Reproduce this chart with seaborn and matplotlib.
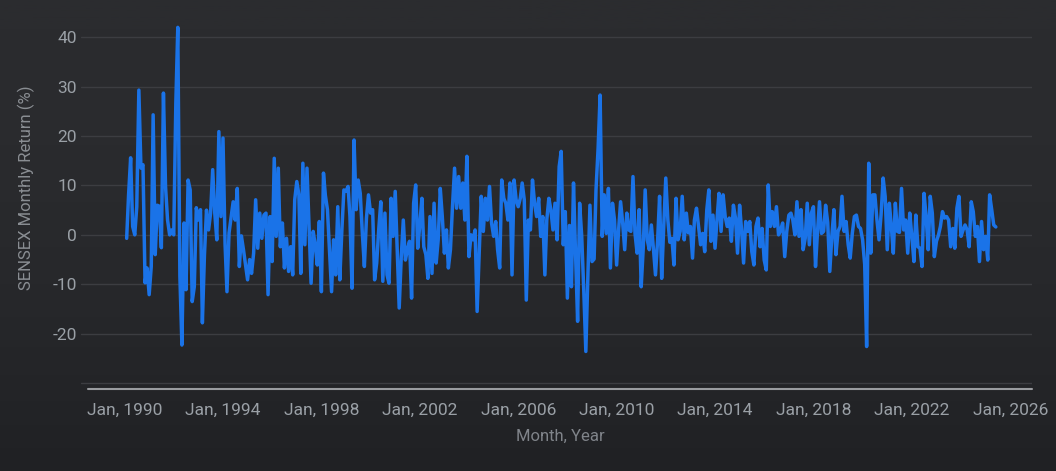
import numpy as np
import pandas as pd
import seaborn as sns
import matplotlib.pyplot as plt
from matplotlib.colors import LinearSegmentedColormap

# monthly SENSEX returns (%), Feb 1990 .. Jun 2025
first_month = '1990-02-01'
monthly_return = [
    -0.7, 8.0, 15.6, 1.7, 0.0, 5.7, 29.3, 13.5, 14.2, -9.7, -6.7,              # 1990
    -12.1, -6.4, 24.3, -4.0, 6.0, 5.8, -2.6, 28.7, 9.8, 3.0, 0.0, 1.0,         # 1991
    0.0, 26.7, 42.0, -8.4, -22.3, 2.4, -11.1, 11.1, 9.1, -13.5, -10.5, 5.5,    # 1992
    3.0, 5.1, -17.8, -4.0, 5.0, 1.0, 4.4, 13.2, 4.4, -1.0, 20.9, 3.7,          # 1993
    19.6, -2.0, -11.5, 0.4, 3.5, 6.7, 3.0, 9.4, -6.4, -0.2, -3.0, -6.0,        # 1994
    -9.1, -5.0, -7.8, -3.7, 7.1, -2.7, 4.4, -0.7, 4.0, 4.4, -12.1, 3.7,        # 1995
    -5.4, 15.5, -0.3, 13.5, -2.4, 2.4, -6.7, -0.7, -7.4, -2.4, -8.1, 7.1,      # 1996
    10.8, 8.1, -7.8, 14.5, -2.0, 13.5, 2.0, -9.8, 0.7, -2.0, -6.1, 2.7,        # 1997
    -11.5, 12.5, 8.0, 5.1, -3.0, -11.5, -1.0, -8.1, 5.7, -9.1, 1.0, 9.1,       # 1998
    8.8, 9.8, 3.7, -10.8, 19.2, 5.1, 11.1, 8.4, 0.3, -6.4, 3.4, 8.1,           # 1999
    4.4, 5.1, -9.1, -5.7, 1.0, 6.7, -9.4, 4.4, -8.1, -9.8, 7.4, -0.3,          # 2000
    8.8, -3.7, -14.8, -4.4, 3.0, -5.1, -3.0, -1.3, -12.8, 6.4, 10.1, -2.7,     # 2001
    2.0, 7.4, -2.4, -4.0, -8.8, 3.7, -7.8, 6.4, -5.7, -1.0, 9.4, 3.7,          # 2002
    -3.7, 1.0, -6.7, -3.0, 5.7, 13.5, 5.4, 11.8, 5.4, 10.5, 3.0, 15.9,         # 2003
    -4.4, 0.0, -1.0, 1.0, -15.5, -3.7, 7.8, 0.7, 7.4, 3.0, 9.8, 2.4,           # 2004
    -0.3, 2.7, -3.0, -6.7, 11.1, 7.4, 6.4, 3.0, 10.5, -8.1, 11.1, 7.1,         # 2005
    5.7, 7.4, 10.5, 7.1, -13.2, 3.0, 1.0, 11.1, 6.4, 3.7, 7.4, -0.3,           # 2006
    3.7, -8.1, 3.0, 7.4, 5.1, 1.0, 6.4, -1.0, 13.8, 16.9, -2.0, 4.7,           # 2007
    -12.8, 1.9, -10.5, 10.5, -3.7, -17.5, 6.4, -0.3, -11.5, -23.6, -8.0, 6.0,  # 2008
    -5.4, -4.9, 9.1, 17.5, 28.3, -0.3, 8.1, 0.3, 9.4, -6.7, 6.4, 3.0,          # 2009
    -6.1, 1.3, 6.7, 2.4, -3.0, 4.4, 1.0, 0.7, 11.8, 0.3, -3.7, 5.1,            # 2010
    -10.5, -2.5, 9.1, -1.0, -3.0, 2.0, -2.7, -8.1, -1.3, 7.8, -8.8, 1.5,       # 2011
    11.5, 3.0, -1.5, -0.7, -6.1, 7.4, -1.0, 0.7, 7.8, -1.0, 4.4, 0.4,          # 2012
    1.7, -4.7, 3.0, 5.4, 1.7, -2.0, 0.3, -3.4, 5.1, 9.1, -1.3, 4.0,            # 2013
    -2.7, 3.4, 8.4, 0.7, 8.1, 3.7, 1.7, 3.4, -1.3, 6.0, 3.4, -3.7,             # 2014
    6.0, 0.7, -5.7, 2.7, 0.7, 2.7, -3.4, -6.1, 1.7, 3.4, -2.4, 1.3,            # 2015
    -5.1, -7.1, 10.1, 1.7, 4.7, 1.7, 5.7, 0.0, 1.0, 2.4, -4.4, 0.7,            # 2016
    4.0, 4.4, 3.0, 0.0, 6.7, -0.3, 5.1, -3.0, -0.7, 6.4, -2.0, 4.4,            # 2017
    5.7, -6.4, 0.3, 6.7, 0.3, 0.7, 6.0, 2.5, -7.4, -0.3, 5.1, -4.0,            # 2018
    0.7, 1.7, 7.8, 0.7, 2.7, -2.0, -4.7, 0.3, 3.7, 4.0, 1.7, 1.3,              # 2019
    -1.0, -6.0, -22.6, 14.5, -3.7, 8.1, 8.1, 3.0, -1.0, 4.0, 11.5, 7.8,        # 2020
    -3.0, 6.4, 2.0, -3.7, 6.4, 0.7, 0.5, 9.4, 1.0, 3.0, -3.7, 4.4,             # 2021
    -0.3, -5.4, 4.0, -2.4, -2.7, -6.4, 8.4, 3.7, -3.0, 7.8, 4.4, -4.4,         # 2022
    -1.3, 0.0, 1.7, 4.7, 3.4, 3.7, 3.0, -2.4, 1.3, -2.7, 5.4, 7.8,             # 2023
    -0.3, 1.0, 2.0, 1.0, -2.4, 6.7, 4.7, -0.3, 1.7, -5.4, 2.7, -3.0,           # 2024
    -0.3, -5.1, 8.1, 5.1, 2.0, 1.6,                                            # 2025
]

tick_years = [1990, 1994, 1998, 2002, 2006, 2010, 2014, 2018, 2022, 2026]
y_ticks = [-30, -20, -10, 0, 10, 20, 30, 40]

df = pd.DataFrame({
    'month': pd.date_range(first_month, periods=len(monthly_return), freq='MS'),
    'ret': monthly_return,
})

sns.set_style('dark')
plt.rcParams['font.family'] = ['Roboto', 'DejaVu Sans']

fig = plt.figure(figsize=(10.56, 4.71), dpi=100)

# dark background with slight fade to the bottom
bg = fig.add_axes([0, 0, 1, 1], zorder=-1)
grad = np.linspace(0, 1, 256).reshape(-1, 1) ** 2
bg.imshow(grad, aspect='auto', extent=[0, 1, 0, 1],
          cmap=LinearSegmentedColormap.from_list('bg', ['#2b2c2f', '#202124']))
bg.axis('off')

ax = fig.add_axes([81 / 1056, (471 - 389) / 471, (1032 - 81) / 1056, (389 - 17.5) / 471])
ax.set_facecolor('none')

sns.lineplot(data=df, x='month', y='ret', ax=ax, color='#1a73e8', linewidth=2.5)

ax.set_ylim(-31.2, 44)
ax.set_xlim(pd.Timestamp('1988-03-25'), pd.Timestamp('2026-11-20'))

ax.set_yticks(y_ticks)
ax.set_yticklabels(['' if t == -30 else str(t) for t in y_ticks])
ax.set_xticks([pd.Timestamp(f'{y}-01-01') for y in tick_years])
ax.set_xticklabels([f'Jan, {y}' for y in tick_years])

ax.tick_params(axis='both', length=0, colors='#9aa0a6', labelsize=12.5)
ax.tick_params(axis='y', pad=3)
ax.tick_params(axis='x', pad=10)

ax.yaxis.grid(True, color='#3c3d41', linewidth=1)
ax.xaxis.grid(False)
for s in ['top', 'right', 'left', 'bottom']:
    ax.spines[s].set_visible(False)
# baseline starts a little right of the gridlines, like the original
ax.axhline(ax.get_ylim()[0], xmin=0.0074, xmax=1, color='#9a9ca0', linewidth=1.5, clip_on=False)

ax.set_ylabel('SENSEX Monthly Return (%)', color='#8a8e93', fontsize=12)
ax.yaxis.set_label_coords(-0.0484, 0.542)
ax.set_xlabel('Month, Year', color='#80848a', fontsize=12)
ax.xaxis.set_label_coords(0.5037, -0.108)

fig.savefig('out.png', dpi=100, facecolor='#27282b')
